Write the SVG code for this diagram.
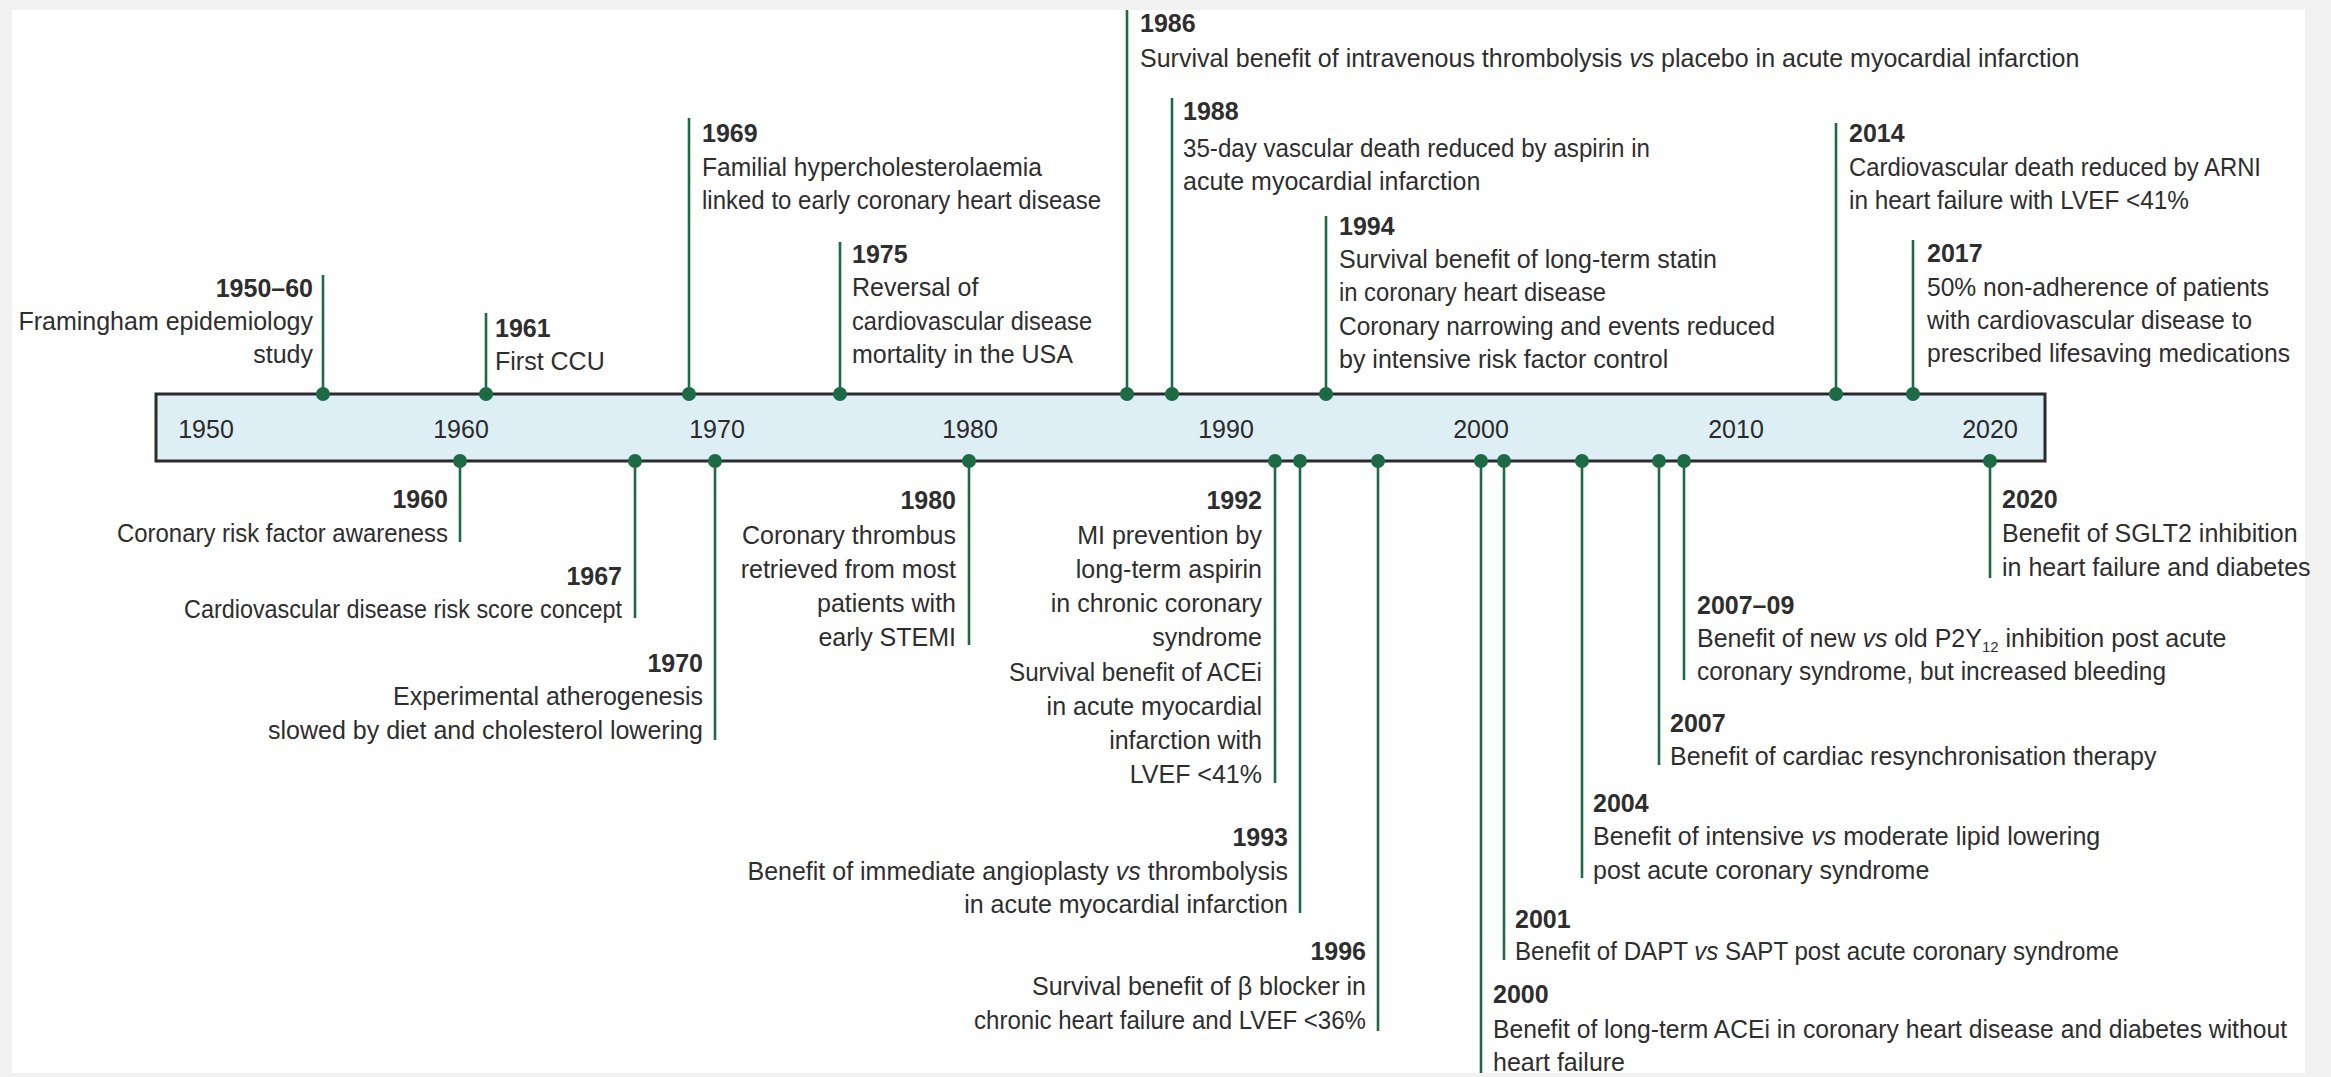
<svg xmlns="http://www.w3.org/2000/svg" width="2331" height="1077" viewBox="0 0 2331 1077">
<defs>
<style>
.t{font-family:"Liberation Sans",Arial,sans-serif;font-size:25px;fill:#2e2e2e}
.y{font-weight:bold}
.e{text-anchor:end}
.i{font-style:italic}
.stem{stroke:#1c6b45;stroke-width:2.6;fill:none}
.dot{fill:#1c6b45}
.dec{font-family:"Liberation Sans",Arial,sans-serif;font-size:25px;fill:#2a2a2a;text-anchor:middle}
</style>
</defs>
<rect x="0" y="0" width="2331" height="1077" fill="#f1f1f1"/>
<rect x="12" y="10" width="2293" height="1063" fill="#ffffff"/>

<g id="timeline">
<rect x="156" y="394" width="1889" height="67" fill="#ddeef5" stroke="#2b2b2b" stroke-width="3"/>
<text class="dec" x="206" y="438">1950</text>
<text class="dec" x="461" y="438">1960</text>
<text class="dec" x="717" y="438">1970</text>
<text class="dec" x="970" y="438">1980</text>
<text class="dec" x="1226" y="438">1990</text>
<text class="dec" x="1481" y="438">2000</text>
<text class="dec" x="1736" y="438">2010</text>
<text class="dec" x="1990" y="438">2020</text>
</g>

<g id="connectors">
<line class="stem" x1="323" y1="275" x2="323" y2="394"/>
<line class="stem" x1="486" y1="313" x2="486" y2="394"/>
<line class="stem" x1="689" y1="118" x2="689" y2="394"/>
<line class="stem" x1="840" y1="242" x2="840" y2="394"/>
<line class="stem" x1="1127" y1="10" x2="1127" y2="394"/>
<line class="stem" x1="1172" y1="98" x2="1172" y2="394"/>
<line class="stem" x1="1326" y1="216" x2="1326" y2="394"/>
<line class="stem" x1="1836" y1="123" x2="1836" y2="394"/>
<line class="stem" x1="1913" y1="240" x2="1913" y2="394"/>
<line class="stem" x1="460" y1="461" x2="460" y2="542"/>
<line class="stem" x1="635" y1="461" x2="635" y2="618"/>
<line class="stem" x1="715" y1="461" x2="715" y2="740"/>
<line class="stem" x1="969" y1="461" x2="969" y2="645"/>
<line class="stem" x1="1275" y1="461" x2="1275" y2="783"/>
<line class="stem" x1="1300" y1="461" x2="1300" y2="913"/>
<line class="stem" x1="1378" y1="461" x2="1378" y2="1031"/>
<line class="stem" x1="1481" y1="461" x2="1481" y2="1077"/>
<line class="stem" x1="1504" y1="461" x2="1504" y2="960"/>
<line class="stem" x1="1582" y1="461" x2="1582" y2="878"/>
<line class="stem" x1="1659" y1="461" x2="1659" y2="765"/>
<line class="stem" x1="1684" y1="461" x2="1684" y2="680"/>
<line class="stem" x1="1990" y1="461" x2="1990" y2="578"/>
<circle class="dot" cx="323" cy="394" r="7"/>
<circle class="dot" cx="486" cy="394" r="7"/>
<circle class="dot" cx="689" cy="394" r="7"/>
<circle class="dot" cx="840" cy="394" r="7"/>
<circle class="dot" cx="1127" cy="394" r="7"/>
<circle class="dot" cx="1172" cy="394" r="7"/>
<circle class="dot" cx="1326" cy="394" r="7"/>
<circle class="dot" cx="1836" cy="394" r="7"/>
<circle class="dot" cx="1913" cy="394" r="7"/>
<circle class="dot" cx="460" cy="461" r="7"/>
<circle class="dot" cx="635" cy="461" r="7"/>
<circle class="dot" cx="715" cy="461" r="7"/>
<circle class="dot" cx="969" cy="461" r="7"/>
<circle class="dot" cx="1275" cy="461" r="7"/>
<circle class="dot" cx="1300" cy="461" r="7"/>
<circle class="dot" cx="1378" cy="461" r="7"/>
<circle class="dot" cx="1481" cy="461" r="7"/>
<circle class="dot" cx="1504" cy="461" r="7"/>
<circle class="dot" cx="1582" cy="461" r="7"/>
<circle class="dot" cx="1659" cy="461" r="7"/>
<circle class="dot" cx="1684" cy="461" r="7"/>
<circle class="dot" cx="1990" cy="461" r="7"/>
</g>

<g id="e1950" class="t e">
<text x="313" y="297" class="y">1950–60</text>
<text x="313" y="330">Framingham epidemiology</text>
<text x="313" y="363">study</text>
</g>
<g id="e1961" class="t">
<text x="495" y="337" class="y">1961</text>
<text x="495" y="370">First CCU</text>
</g>
<g id="e1969" class="t">
<text x="702" y="142" class="y">1969</text>
<text x="702" y="176" textLength="340" lengthAdjust="spacingAndGlyphs">Familial hypercholesterolaemia</text>
<text x="702" y="209" textLength="399" lengthAdjust="spacingAndGlyphs">linked to early coronary heart disease</text>
</g>
<g id="e1975" class="t">
<text x="852" y="263" class="y">1975</text>
<text x="852" y="296">Reversal of</text>
<text x="852" y="330" textLength="240" lengthAdjust="spacingAndGlyphs">cardiovascular disease</text>
<text x="852" y="363">mortality in the USA</text>
</g>
<g id="e1986" class="t">
<text x="1140" y="32" class="y">1986</text>
<text x="1140" y="67">Survival benefit of intravenous thrombolysis <tspan class="i">vs</tspan> placebo in acute myocardial infarction</text>
</g>
<g id="e1988" class="t">
<text x="1183" y="120" class="y">1988</text>
<text x="1183" y="157" textLength="467" lengthAdjust="spacingAndGlyphs">35-day vascular death reduced by aspirin in</text>
<text x="1183" y="190">acute myocardial infarction</text>
</g>
<g id="e1994" class="t">
<text x="1339" y="235" class="y">1994</text>
<text x="1339" y="268">Survival benefit of long-term statin</text>
<text x="1339" y="301" textLength="267" lengthAdjust="spacingAndGlyphs">in coronary heart disease</text>
<text x="1339" y="335" textLength="436" lengthAdjust="spacingAndGlyphs">Coronary narrowing and events reduced</text>
<text x="1339" y="368">by intensive risk factor control</text>
</g>
<g id="e2014" class="t">
<text x="1849" y="142" class="y">2014</text>
<text x="1849" y="176" textLength="412" lengthAdjust="spacingAndGlyphs">Cardiovascular death reduced by ARNI</text>
<text x="1849" y="209" textLength="340" lengthAdjust="spacingAndGlyphs">in heart failure with LVEF &lt;41%</text>
</g>
<g id="e2017" class="t">
<text x="1927" y="262" class="y">2017</text>
<text x="1927" y="296" textLength="342" lengthAdjust="spacingAndGlyphs">50% non-adherence of patients</text>
<text x="1927" y="329" textLength="325" lengthAdjust="spacingAndGlyphs">with cardiovascular disease to</text>
<text x="1927" y="362" textLength="363" lengthAdjust="spacingAndGlyphs">prescribed lifesaving medications</text>
</g>

<g id="e1960" class="t e">
<text x="448" y="508" class="y">1960</text>
<text x="448" y="542" textLength="331" lengthAdjust="spacingAndGlyphs">Coronary risk factor awareness</text>
</g>
<g id="e1967" class="t e">
<text x="622" y="585" class="y">1967</text>
<text x="622" y="618" textLength="438" lengthAdjust="spacingAndGlyphs">Cardiovascular disease risk score concept</text>
</g>
<g id="e1970" class="t e">
<text x="703" y="672" class="y">1970</text>
<text x="703" y="705">Experimental atherogenesis</text>
<text x="703" y="739">slowed by diet and cholesterol lowering</text>
</g>
<g id="e1980" class="t e">
<text x="956" y="509" class="y">1980</text>
<text x="956" y="544">Coronary thrombus</text>
<text x="956" y="578">retrieved from most</text>
<text x="956" y="612">patients with</text>
<text x="956" y="646">early STEMI</text>
</g>
<g id="e1992" class="t e">
<text x="1262" y="509" class="y">1992</text>
<text x="1262" y="544">MI prevention by</text>
<text x="1262" y="578">long-term aspirin</text>
<text x="1262" y="612">in chronic coronary</text>
<text x="1262" y="646">syndrome</text>
<text x="1262" y="681" textLength="253" lengthAdjust="spacingAndGlyphs">Survival benefit of ACEi</text>
<text x="1262" y="715">in acute myocardial</text>
<text x="1262" y="749">infarction with</text>
<text x="1262" y="783">LVEF &lt;41%</text>
</g>
<g id="e1993" class="t e">
<text x="1288" y="846" class="y">1993</text>
<text x="1288" y="880">Benefit of immediate angioplasty <tspan class="i">vs</tspan> thrombolysis</text>
<text x="1288" y="913">in acute myocardial infarction</text>
</g>
<g id="e1996" class="t e">
<text x="1366" y="960" class="y">1996</text>
<text x="1366" y="995">Survival benefit of β blocker in</text>
<text x="1366" y="1029" textLength="392" lengthAdjust="spacingAndGlyphs">chronic heart failure and LVEF &lt;36%</text>
</g>
<g id="e2000" class="t">
<text x="1493" y="1003" class="y">2000</text>
<text x="1493" y="1038" textLength="794" lengthAdjust="spacingAndGlyphs">Benefit of long-term ACEi in coronary heart disease and diabetes without</text>
<text x="1493" y="1071">heart failure</text>
</g>
<g id="e2001" class="t">
<text x="1515" y="928" class="y">2001</text>
<text x="1515" y="960" textLength="604" lengthAdjust="spacingAndGlyphs">Benefit of DAPT <tspan class="i">vs</tspan> SAPT post acute coronary syndrome</text>
</g>
<g id="e2004" class="t">
<text x="1593" y="812" class="y">2004</text>
<text x="1593" y="845">Benefit of intensive <tspan class="i">vs</tspan> moderate lipid lowering</text>
<text x="1593" y="879">post acute coronary syndrome</text>
</g>
<g id="e2007" class="t">
<text x="1670" y="732" class="y">2007</text>
<text x="1670" y="765">Benefit of cardiac resynchronisation therapy</text>
</g>
<g id="e200709" class="t">
<text x="1697" y="614" class="y">2007–09</text>
<text x="1697" y="647">Benefit of new <tspan class="i">vs</tspan> old P2Y<tspan font-size="15" dy="5">12</tspan><tspan dy="-5"> inhibition post acute</tspan></text>
<text x="1697" y="680" textLength="469" lengthAdjust="spacingAndGlyphs">coronary syndrome, but increased bleeding</text>
</g>
<g id="e2020" class="t">
<text x="2002" y="508" class="y">2020</text>
<text x="2002" y="542">Benefit of SGLT2 inhibition</text>
<text x="2002" y="576">in heart failure and diabetes</text>
</g>
<rect x="0" y="1073" width="2331" height="4" fill="#f1f1f1"/>
</svg>
